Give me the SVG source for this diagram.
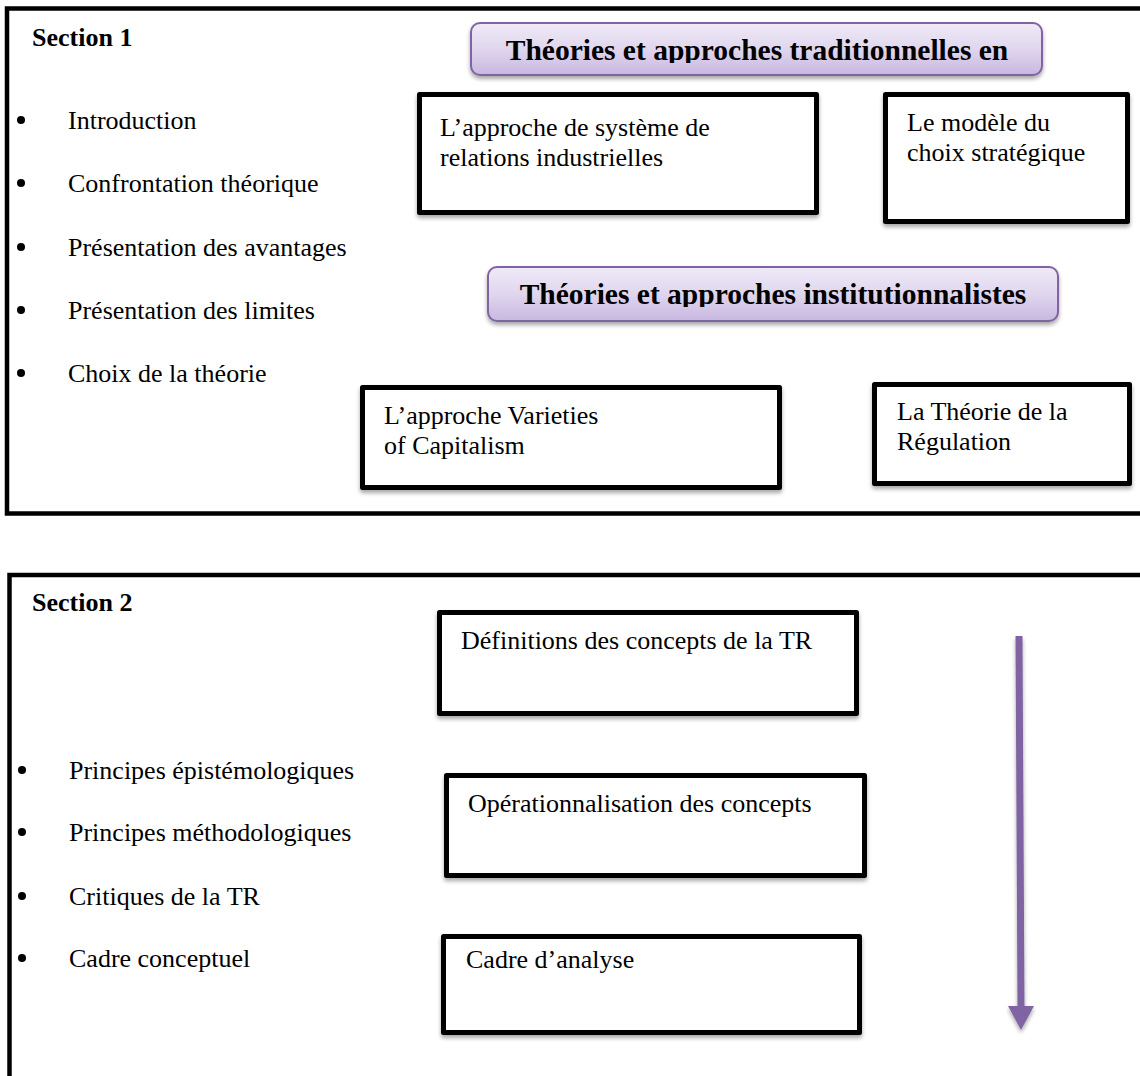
<svg xmlns="http://www.w3.org/2000/svg" width="1140" height="1076" viewBox="0 0 1140 1076">
  <defs>
    <style>
      .t { font-family: "Liberation Serif", "Times New Roman", serif; font-size: 26px; fill: #000; }
      .b { font-weight: bold; }
      .h { font-family: "Liberation Serif", "Times New Roman", serif; font-size: 29.5px; font-weight: bold; fill: #000; }
      .frame { fill: none; stroke: #000; stroke-width: 4.5; }
      .box { fill: #fff; stroke: #000; stroke-width: 5; stroke-linejoin: round; }
      .pill { fill: url(#lav); stroke: #8064a2; stroke-width: 2; }
    </style>
    <linearGradient id="lav" x1="0" y1="0" x2="0" y2="1">
      <stop offset="0" stop-color="#efeaf7"/>
      <stop offset="0.5" stop-color="#e0d6ee"/>
      <stop offset="1" stop-color="#c8b7e0"/>
    </linearGradient>
    <filter id="sh" x="-5%" y="-20%" width="110%" height="150%">
      <feGaussianBlur in="SourceAlpha" stdDeviation="2"/>
      <feOffset dx="0" dy="3" result="o"/>
      <feComponentTransfer><feFuncA type="linear" slope="0.35"/></feComponentTransfer>
      <feMerge><feMergeNode/><feMergeNode in="SourceGraphic"/></feMerge>
    </filter>
    <clipPath id="c1"><rect x="471" y="23" width="571" height="40"/></clipPath>
    <clipPath id="c2"><rect x="488" y="267" width="570" height="40"/></clipPath>
  </defs>

  <rect width="1140" height="1076" fill="#fff"/>

  <!-- Section 1 -->
  <g id="section1">
    <rect class="frame" x="7" y="8.5" width="1160" height="505"/>
    <text class="t b" x="32" y="46">Section 1</text>
    <g id="list1">
      <circle cx="21" cy="120" r="4"/><text class="t" x="68" y="129">Introduction</text>
      <circle cx="21" cy="183" r="4"/><text class="t" x="68" y="192">Confrontation théorique</text>
      <circle cx="21" cy="247" r="4"/><text class="t" x="68" y="256">Présentation des avantages</text>
      <circle cx="21" cy="310" r="4"/><text class="t" x="68" y="319">Présentation des limites</text>
      <circle cx="21" cy="373" r="4"/><text class="t" x="68" y="382">Choix de la théorie</text>
    </g>
  </g>

  <g id="title-traditional">
    <rect class="pill" x="471" y="23" width="571" height="52" rx="9" filter="url(#sh)"/>
    <text class="h" x="757" y="60" text-anchor="middle" clip-path="url(#c1)">Théories et approches traditionnelles en</text>
  </g>

  <g id="node-sri">
    <rect class="box" x="419.5" y="94.5" width="397" height="118" filter="url(#sh)"/>
    <text class="t" x="440" y="136">L’approche de système de</text>
    <text class="t" x="440" y="166">relations industrielles</text>
  </g>

  <g id="node-choix">
    <rect class="box" x="885.5" y="94.5" width="242" height="127" filter="url(#sh)"/>
    <text class="t" x="907" y="131">Le modèle du</text>
    <text class="t" x="907" y="161">choix stratégique</text>
  </g>

  <g id="title-institutional">
    <rect class="pill" x="488" y="267" width="570" height="54" rx="9" filter="url(#sh)"/>
    <text class="h" x="773" y="304" text-anchor="middle" clip-path="url(#c2)">Théories et approches institutionnalistes</text>
  </g>

  <g id="node-voc">
    <rect class="box" x="362.5" y="387.5" width="417" height="100" filter="url(#sh)"/>
    <text class="t" x="384" y="424">L’approche Varieties</text>
    <text class="t" x="384" y="454">of Capitalism</text>
  </g>

  <g id="node-regulation">
    <rect class="box" x="874.5" y="384.5" width="255" height="99" filter="url(#sh)"/>
    <text class="t" x="897" y="420">La Théorie de la</text>
    <text class="t" x="897" y="450">Régulation</text>
  </g>

  <!-- Section 2 -->
  <g id="section2">
    <rect class="frame" x="9.5" y="575" width="1160" height="560"/>
    <text class="t b" x="32" y="611">Section 2</text>
    <g id="list2">
      <circle cx="22" cy="770" r="4"/><text class="t" x="69" y="779">Principes épistémologiques</text>
      <circle cx="22" cy="832" r="4"/><text class="t" x="69" y="841">Principes méthodologiques</text>
      <circle cx="22" cy="896" r="4"/><text class="t" x="69" y="905">Critiques de la TR</text>
      <circle cx="22" cy="958" r="4"/><text class="t" x="69" y="967">Cadre conceptuel</text>
    </g>
  </g>

  <g id="node-definitions">
    <rect class="box" x="439.5" y="612.5" width="417" height="101" filter="url(#sh)"/>
    <text class="t" x="461" y="649">Définitions des concepts de la TR</text>
  </g>

  <g id="node-operationnalisation">
    <rect class="box" x="446.5" y="775.5" width="418" height="100" filter="url(#sh)"/>
    <text class="t" x="468" y="812">Opérationnalisation des concepts</text>
  </g>

  <g id="node-cadre">
    <rect class="box" x="443.5" y="936.5" width="416" height="96" filter="url(#sh)"/>
    <text class="t" x="466" y="968">Cadre d’analyse</text>
  </g>

  <g id="connectors" filter="url(#sh)">
    <line x1="1019" y1="636" x2="1021" y2="1007" stroke="#8064a2" stroke-width="7"/>
    <polygon points="1008,1006 1034,1006 1021,1030" fill="#8064a2"/>
  </g>
</svg>
